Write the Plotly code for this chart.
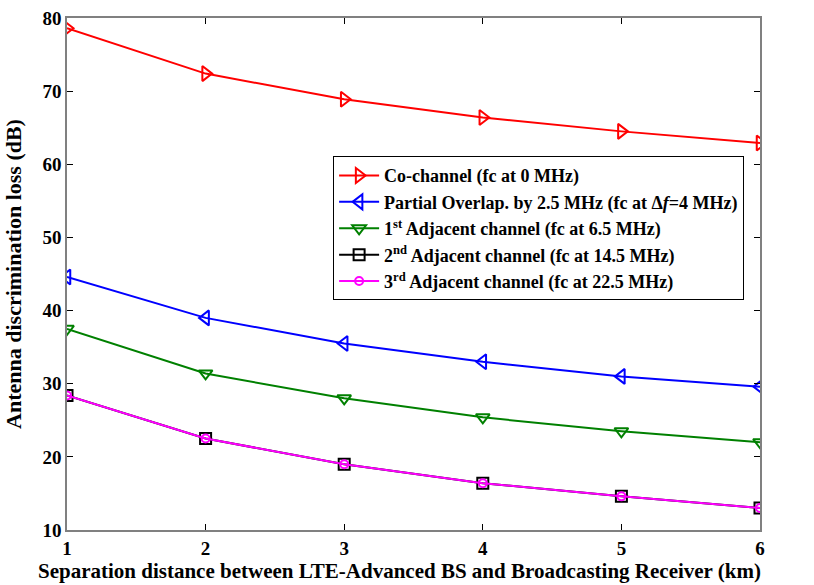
import plotly.graph_objects as go

x_km = [1, 2, 3, 4, 5, 6]
co_channel = [78.6, 72.4, 68.9, 66.4, 64.5, 62.9]
partial_overlap = [44.6, 39.0, 35.5, 33.0, 31.0, 29.6]
adj1 = [37.5, 31.4, 28.0, 25.4, 23.5, 22.0]
adj2 = [28.4, 22.5, 19.0, 16.4, 14.6, 13.0]
adj3 = [28.4, 22.5, 19.0, 16.4, 14.6, 13.0]

x_title = "<b>Separation distance between LTE-Advanced BS and Broadcasting Receiver (km)</b>"
y_title = "<b>Antenna discrimination loss (dB)</b>"
names = [
    "<b>Co-channel (fc at 0 MHz)</b>",
    "<b>Partial Overlap. by 2.5 MHz (fc at \u0394<i>f</i>=4 MHz)</b>",
    "<b>1<sup>st</sup> Adjacent channel (fc at 6.5 MHz)</b>",
    "<b>2<sup>nd</sup> Adjacent channel (fc at 14.5 MHz)</b>",
    "<b>3<sup>rd</sup> Adjacent channel (fc at 22.5 MHz)</b>",
]
series = [co_channel, partial_overlap, adj1, adj2, adj3]
colors = ["#ff0000", "#0000ff", "#008000", "#000000", "#ff00ff"]
symbols = ["triangle-right-open", "triangle-left-open", "triangle-down-open", "square-open", "circle-open"]
sizes = [13, 13, 12, 11, 8]

fig = go.Figure()
for nm, ys, c, s, sz in zip(names, series, colors, symbols, sizes):
    fig.add_trace(go.Scatter(
        x=x_km, y=ys, name=nm, mode="lines+markers",
        line=dict(color=c, width=2),
        marker=dict(symbol=s, size=sz, color=c, line=dict(color=c, width=2)),
    ))

font_fam = "Liberation Serif, Times New Roman, serif"
axis_common = dict(
    showline=True, linecolor="#808080", linewidth=1.5, mirror="ticks",
    ticks="inside", ticklen=6, tickcolor="#000000", showgrid=False, zeroline=False,
    tickfont=dict(family=font_fam, size=19, color="black"), automargin=False,
)
fig.update_layout(
    width=814, height=585,
    margin=dict(l=67, r=54, t=18, b=55),
    paper_bgcolor="white", plot_bgcolor="white",
    font=dict(family=font_fam, color="black"),
    xaxis=dict(range=[1, 6], tickvals=x_km,
               ticktext=["<b>%d</b>" % v for v in x_km],
               **axis_common),
    yaxis=dict(range=[10, 80], tickvals=[10, 20, 30, 40, 50, 60, 70, 80],
               ticktext=["<b>%d</b>" % v for v in [10, 20, 30, 40, 50, 60, 70, 80]],
               title=dict(text=y_title, font=dict(family=font_fam, size=22)),
               **axis_common),
    legend=dict(x=0.384, y=0.73, xanchor="left", yanchor="top",
                bgcolor="white", bordercolor="black", borderwidth=1,
                font=dict(family=font_fam, size=18, color="black"),
                tracegroupgap=0, itemwidth=40),
    annotations=[dict(text=x_title, x=0.48, xref="paper", y=-0.107, yref="paper",
                      xanchor="center", yanchor="bottom", showarrow=False,
                      font=dict(family=font_fam, size=21, color="black"))],
)

fig.write_html("out.html")
